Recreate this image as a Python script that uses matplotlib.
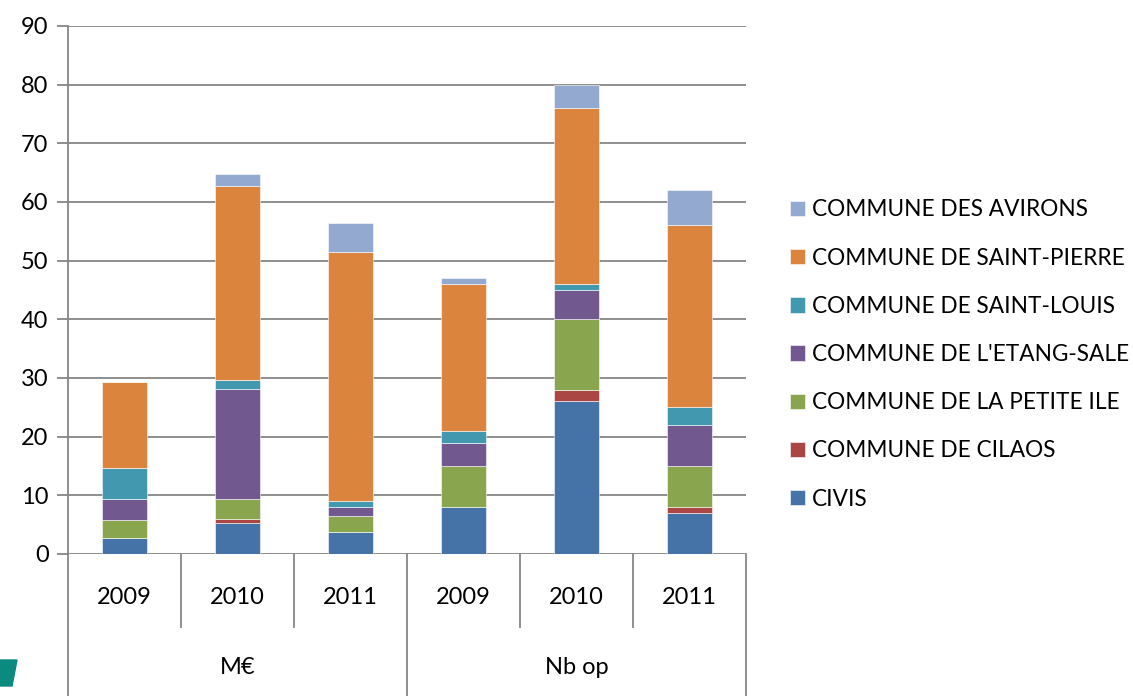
import numpy as np
import matplotlib.pyplot as plt
from matplotlib.patches import Polygon

plt.rcParams['font.family'] = ['Lato', 'DejaVu Sans']

# =========================
# DATA
# =========================
years = ["2009", "2010", "2011", "2009", "2010", "2011"]
groups = ["M€", "Nb op"]

series_names = [
    "CIVIS",
    "COMMUNE DE CILAOS",
    "COMMUNE DE LA PETITE ILE",
    "COMMUNE DE L'ETANG-SALE",
    "COMMUNE DE SAINT-LOUIS",
    "COMMUNE DE SAINT-PIERRE",
    "COMMUNE DES AVIRONS",
]
civis = [2.7, 5.2, 3.8, 8, 26, 7]
cilaos = [0.0, 0.8, 0.0, 0, 2, 1]
petite_ile = [3.1, 3.4, 2.6, 7, 12, 7]
etang_sale = [3.5, 18.8, 1.6, 4, 5, 7]
saint_louis = [5.3, 1.4, 1.1, 2, 1, 3]
saint_pierre = [14.7, 33.1, 42.3, 25, 30, 31]
avirons = [0.0, 2.1, 5.1, 1, 4, 6]

colors = ["#4572A7", "#AA4643", "#89A54E", "#71588F", "#4198AF", "#DB843D", "#93A9CF"]
grid_color = "#868686"
fs = 17

# =========================
# FIGURE
# =========================
W, H = 1133, 696
fig = plt.figure(figsize=(W / 100, H / 100), dpi=100)
ax = fig.add_axes([68 / W, (H - 554) / H, (746 - 68) / W, (554 - 26) / H])

x = np.arange(len(years))
bottom = np.zeros(len(years))
all_series = [civis, cilaos, petite_ile, etang_sale, saint_louis, saint_pierre, avirons]
bars = []
for name, vals, col in zip(series_names, all_series, colors):
    b = ax.bar(x, vals, 0.4, bottom=bottom, color=col, label=name,
               edgecolor="#ffffff", linewidth=0.4, zorder=3)
    bars.append(b)
    bottom += np.array(vals)

ax.set_xlim(-0.5, 5.5)
ax.set_ylim(0, 90)
ax.set_yticks(range(0, 91, 10))
ax.yaxis.grid(True, color=grid_color, linewidth=1.3, zorder=0)
ax.set_axisbelow(True)
ax.tick_params(axis="y", length=8, width=1.3, color=grid_color, labelsize=fs, pad=6)
ax.set_xticks([])
for s in ["top", "right", "bottom"]:
    ax.spines[s].set_visible(False)
ax.spines["left"].set_color(grid_color)
ax.spines["left"].set_linewidth(1.3)

# multi-level category axis
ax_h = 554 - 26
def yfrac(py):
    return (554 - py) / ax_h

trans = ax.get_xaxis_transform()
ax.plot([-0.5, -0.5], [0, yfrac(696)], transform=trans, color=grid_color, lw=1.3, clip_on=False)
for i in range(1, 7):
    xb = i - 0.5
    low = yfrac(696) if i in (3, 6) else yfrac(627)
    ax.plot([xb, xb], [0, low], transform=trans, color=grid_color, lw=1.3, clip_on=False)
for i, yr in enumerate(years):
    ax.text(i, yfrac(598), yr, transform=trans, ha="center", va="center", fontsize=fs)
for j, g in enumerate(groups):
    ax.text(1 + 3 * j, yfrac(668), g, transform=trans, ha="center", va="center", fontsize=fs)

# legend
handles = bars[::-1]
labels = series_names[::-1]
fig.legend(handles, labels, loc="center left", bbox_to_anchor=(790 / W, (H - 354.5) / H),
           frameon=False, fontsize=16.3, handlelength=0.66, handleheight=0.66,
           handletextpad=0.3, labelspacing=1.2, borderpad=0, borderaxespad=0)

# logo fragment at bottom left
fig.patches.append(Polygon([[0, (H - 660) / H], [17 / W, (H - 660) / H],
                            [12 / W, (H - 686) / H], [0, (H - 686) / H]],
                           closed=True, transform=fig.transFigure, color="#0B8A80"))

fig.savefig("out.png", dpi=100)
